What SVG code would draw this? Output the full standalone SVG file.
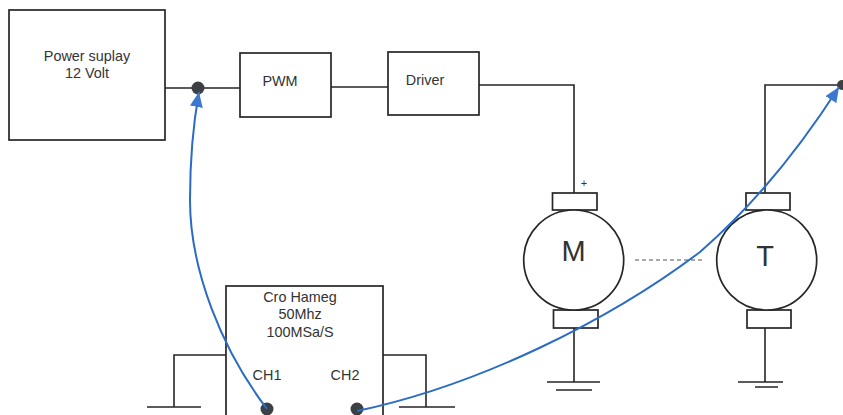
<svg xmlns="http://www.w3.org/2000/svg" width="843" height="415" viewBox="0 0 843 415">
<defs>
<style>
.b{fill:#fff;stroke:#262626;stroke-width:1.7}
.l{fill:none;stroke:#262626;stroke-width:1.6}
.t{font-family:"Liberation Sans",Arial,sans-serif;font-size:14.400px;fill:#333;text-anchor:middle}
.big{font-family:"Liberation Sans",Arial,sans-serif;font-size:29px;fill:#333;text-anchor:middle}
.p{fill:none;stroke:#2a6cc4;stroke-width:2}
.d{fill:#3c3f44}
</style>
<marker id="a" markerUnits="userSpaceOnUse" markerWidth="16" markerHeight="14" refX="15" refY="6.500" orient="auto"><path d="M0 0L15 6.500L0 13Z" fill="#3d78d0"/></marker>
</defs>
<rect width="843" height="415" fill="#fff"/>
<g id="connectors">
<path class="l" d="M165 88H240M331 87H388M479 85H574V193M843 85H765V193"/>
<path class="l" d="M574 328V382M547 382H600M556 390H592"/>
<path class="l" d="M765 328V382M738 382H783M755 387H778"/>
<path class="l" d="M226 355H174V407M147 407H201M383 355H426V407M399 407H455"/>
<path d="M635 260H702" fill="none" stroke="#555" stroke-width="1.1" stroke-dasharray="4 3"/>
</g>
<g id="power"><rect class="b" x="9" y="10" width="156" height="130"/><text class="t" x="87" y="61">Power suplay</text><text class="t" x="87" y="78">12 Volt</text></g>
<g id="pwm"><rect class="b" x="240" y="53" width="91" height="64"/><text class="t" x="280" y="86">PWM</text></g>
<g id="driver"><rect class="b" x="388" y="52" width="91" height="63"/><text class="t" x="425" y="85">Driver</text></g>
<g id="motor">
<rect class="b" x="552.500" y="193" width="44.500" height="17"/><rect class="b" x="553.500" y="310" width="44.500" height="18"/>
<circle class="b" cx="573.700" cy="260" r="50"/><text class="big" x="573.500" y="261">M</text>
<text x="584" y="187" font-family="Liberation Sans,sans-serif" font-size="11" fill="#333" text-anchor="middle">+</text>
</g>
<g id="tacho">
<rect class="b" x="746" y="193" width="44" height="17"/><rect class="b" x="747" y="310" width="44" height="18"/>
<circle class="b" cx="766.700" cy="260" r="50"/><text class="big" x="765" y="266">T</text>
</g>
<g id="scope">
<rect class="b" x="226" y="286" width="157" height="140"/>
<text class="t" x="300" y="302">Cro Hameg</text><text class="t" x="300" y="319">50Mhz</text><text class="t" x="300" y="337">100MSa/S</text>
<text class="t" x="267" y="380">CH1</text><text class="t" x="345" y="380">CH2</text>
</g>
<g id="probes">
<circle class="d" cx="198" cy="88" r="6.500"/><circle class="d" cx="267" cy="409" r="6.500"/><circle class="d" cx="357" cy="409" r="6.500"/><circle class="d" cx="842" cy="85" r="5"/>
<path class="p" marker-end="url(#a)" d="M267 409C222 350 190 270 190 200C190 160 193 125 199 92"/>
<path class="p" marker-end="url(#a)" d="M357 411C480 385 610 320 700 252C760 200 805 140 839 87"/>
</g>
</svg>
